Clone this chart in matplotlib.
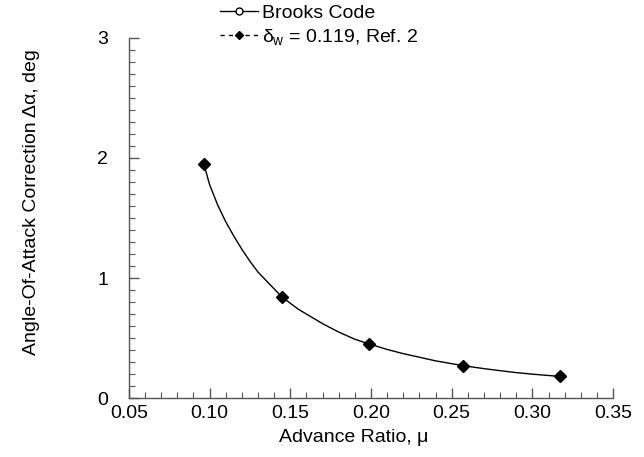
import matplotlib
matplotlib.use("Agg")
import matplotlib.pyplot as plt
from matplotlib.lines import Line2D
from matplotlib.ticker import MultipleLocator

plt.rcParams['font.family'] = ['Liberation Sans', 'DejaVu Sans']
plt.rcParams['mathtext.fontset'] = 'custom'
plt.rcParams['mathtext.rm'] = 'Liberation Sans'
plt.rcParams['mathtext.it'] = 'Liberation Sans'

# Brooks code curve
brooks_mu = [0.0965, 0.10, 0.105, 0.11, 0.115, 0.12, 0.125, 0.13, 0.135, 0.14, 0.145,
             0.15, 0.155, 0.16, 0.17, 0.18, 0.19, 0.199, 0.21, 0.22, 0.23, 0.24,
             0.257, 0.27, 0.28, 0.29, 0.30, 0.317]
brooks_da = [1.95, 1.78, 1.61, 1.47, 1.35, 1.24, 1.14, 1.05, 0.98, 0.91, 0.84,
             0.79, 0.74, 0.70, 0.62, 0.55, 0.49, 0.45, 0.405, 0.37, 0.34, 0.31,
             0.27, 0.245, 0.228, 0.212, 0.199, 0.18]

# Ref. 2 points, delta_w = 0.119
ref_mu = [0.0965, 0.145, 0.199, 0.257, 0.317]
ref_da = [1.95, 0.84, 0.45, 0.27, 0.18]

fig = plt.figure(figsize=(6.44, 4.57), dpi=100)
ax = fig.add_axes([0.2, 0.129, 0.752, 0.788])

ax.plot(brooks_mu, brooks_da, color='black', lw=1.0)
ax.plot(ref_mu, ref_da, ls='none', marker='o', ms=6, mfc='white', mec='black', mew=0.8)
ax.plot(ref_mu, ref_da, ls='none', marker='D', ms=6, color='black')

ax.set_xlim(0.05, 0.35)
ax.set_ylim(0, 3)
ax.xaxis.set_major_locator(MultipleLocator(0.05))
ax.xaxis.set_minor_locator(MultipleLocator(0.01))
ax.yaxis.set_major_locator(MultipleLocator(1))
ax.yaxis.set_minor_locator(MultipleLocator(0.1))
ax.set_xticklabels(['%.2f' % v for v in ax.get_xticks()])

for s in ['top', 'right']:
    ax.spines[s].set_visible(False)
for s in ['left', 'bottom']:
    ax.spines[s].set_color('#555555')
    ax.spines[s].set_linewidth(1.0)
ax.tick_params(which='major', direction='in', length=7, width=1, color='#555555', labelsize=14, pad=5)
ax.tick_params(which='minor', direction='in', length=4, width=0.8, color='#555555')
ax.tick_params(axis='y', pad=15)

ax.set_xlabel('Advance Ratio, μ', fontsize=14)
ax.set_ylabel('Angle-Of-Attack Correction Δα, deg', fontsize=14)
ax.xaxis.set_label_coords(0.465, -0.085)
ax.yaxis.set_label_coords(-0.184, 0.545)

handles = [
    Line2D([], [], color='black', lw=1.0, marker='o', ms=5, mfc='white', mec='black'),
    Line2D([], [], color='black', lw=1.0, ls=(0, (3, 3)), marker='D', ms=4),
]
labels = ['Brooks Code', r'$\delta_\mathrm{w}$ = 0.119, Ref. 2']
fig.legend(handles, labels, loc='upper left', bbox_to_anchor=(0.33, 1.007),
           frameon=False, fontsize=14, handlelength=1.95, handletextpad=0.2,
           labelspacing=0.25, borderaxespad=0)

fig.savefig('out.png', dpi=100)
